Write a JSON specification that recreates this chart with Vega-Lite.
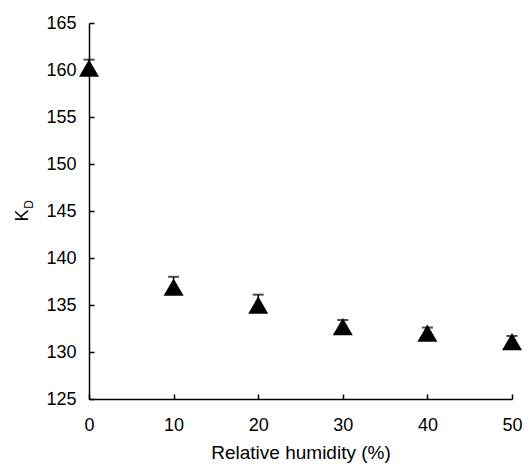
{
  "$schema": "https://vega.github.io/schema/vega-lite/v6.json",
  "autosize": "none",
  "width": 423,
  "height": 376,
  "padding": {"left": 89, "top": 23, "right": 12, "bottom": 65},
  "background": "white",
  "config": {
    "view": {"stroke": null},
    "font": "Liberation Sans",
    "axis": {
      "domainColor": "black", "domainWidth": 1.5,
      "tickColor": "black", "tickWidth": 1.5, "tickSize": -5,
      "labelColor": "black", "labelFont": "Liberation Sans", "labelFontSize": 18,
      "labelFlush": false,
      "titleColor": "black", "titleFont": "Liberation Sans", "titleFontWeight": "normal",
      "grid": false
    }
  },
  "data": {
    "values": [
      {"rh": 0, "kd": 160.2, "upper": 161.1},
      {"rh": 10, "kd": 136.9, "upper": 138.0},
      {"rh": 20, "kd": 135.0, "upper": 136.1},
      {"rh": 30, "kd": 132.7, "upper": 133.4},
      {"rh": 40, "kd": 132.0, "upper": 132.6},
      {"rh": 50, "kd": 131.1, "upper": 131.7}
    ]
  },
  "layer": [
    {
      "layer": [
        {
          "mark": {"type": "rule", "color": "black", "strokeWidth": 1.5},
          "encoding": {
            "x": {"field": "rh", "type": "quantitative",
                  "scale": {"domain": [0, 50], "nice": false, "zero": false},
                  "axis": {"values": [0, 10, 20, 30, 40, 50], "labelPadding": 22, "labelBaseline": "top",
                           "title": "Relative humidity (%)", "titleFontSize": 19, "titleY": 44.5, "titleBaseline": "top"}},
            "y": {"field": "kd", "type": "quantitative",
                  "scale": {"domain": [125, 165], "nice": false, "zero": false},
                  "axis": {"values": [125, 130, 135, 140, 145, 150, 155, 160, 165], "labelPadding": 18,
                           "title": "K", "titleFontSize": 18, "titleAngle": 270, "titleBaseline": "alphabetic",
                           "titleAlign": "center", "titleX": -62, "titleY": 192}},
            "y2": {"field": "upper"}
          }
        },
        {
          "mark": {"type": "tick", "orient": "horizontal", "color": "black", "thickness": 2, "size": 11},
          "encoding": {
            "x": {"field": "rh", "type": "quantitative"},
            "y": {"field": "upper", "type": "quantitative"}
          }
        },
        {
          "mark": {"type": "point", "shape": "triangle-up", "size": 400, "filled": true, "color": "black", "opacity": 1},
          "encoding": {
            "x": {"field": "rh", "type": "quantitative"},
            "y": {"field": "kd", "type": "quantitative"}
          }
        }
      ]
    },
    {
      "mark": {"type": "point", "opacity": 0},
      "encoding": {
        "x": {"field": "rh", "type": "quantitative"},
        "y": {"field": "kd", "type": "quantitative",
              "scale": {"domain": [125, 165], "nice": false, "zero": false},
              "axis": {"orient": "left", "domain": false, "ticks": false, "labels": false,
                       "title": "D", "titleFontSize": 12, "titleAngle": 270, "titleBaseline": "alphabetic",
                       "titleAlign": "center", "titleX": -57, "titleY": 181}}
      }
    }
  ],
  "resolve": {"scale": {"y": "independent"}, "axis": {"y": "independent"}}
}
